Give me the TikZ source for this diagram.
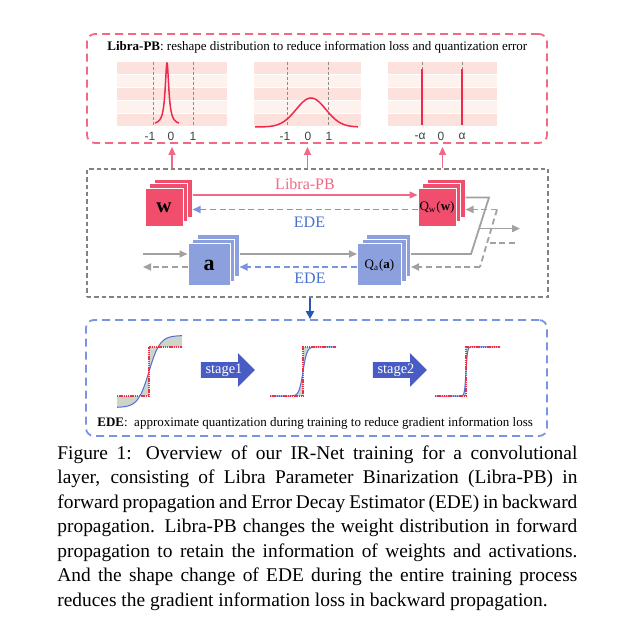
\documentclass[tikz,border=0pt]{standalone}
\usepackage{fontspec}
\setmainfont{Liberation Serif}
\setsansfont{Liberation Sans}
\usepackage{tikz}
\usetikzlibrary{arrows.meta, positioning, calc, shadows, shapes.arrows}
\definecolor{pbred}{RGB}{240,78,108}
\definecolor{pbpink}{RGB}{242,104,134}
\definecolor{curvered}{RGB}{240,40,75}
\definecolor{banddark}{RGB}{253,225,220}
\definecolor{bandlight}{RGB}{254,242,239}
\definecolor{edebox}{RGB}{141,160,222}
\definecolor{edeblue}{RGB}{120,148,226}
\definecolor{edetext}{RGB}{72,112,204}
\definecolor{flowgrey}{RGB}{165,160,160}
\definecolor{panelgrey}{RGB}{130,130,130}
\definecolor{downblue}{RGB}{38,88,178}
\definecolor{stageblue}{RGB}{72,92,196}
\definecolor{sigblue}{RGB}{88,108,208}
\definecolor{gapfill}{RGB}{204,213,199}
\definecolor{stepred}{RGB}{236,48,72}

\begin{document}
\begin{tikzpicture}[x=0.5pt, y=-0.5pt,
      pbpanel/.style={rectangle, draw=pbpink, rounded corners=4pt, line width=0.9pt,
                      dash pattern=on 4pt off 2.5pt, minimum width=230pt, minimum height=54.5pt},
      midpanel/.style={rectangle, draw=panelgrey, line width=0.75pt,
                       dash pattern=on 2.2pt off 1.5pt, minimum width=230.5pt, minimum height=64pt},
      edepanel/.style={rectangle, draw=edeblue, rounded corners=4pt, line width=0.9pt,
                       dash pattern=on 4pt off 2.5pt, minimum width=230.5pt, minimum height=58pt},
      distbox/.style={rectangle, inner sep=0pt, minimum width=55pt, minimum height=32.5pt},
      ticklbl/.style={font=\sffamily\fontsize{6}{7}\selectfont, text=black!75, inner sep=0pt},
      curve/.style={draw=curvered, line width=0.75pt},
      guide/.style={draw=black!45, line width=0.4pt, dash pattern=on 1.5pt off 1pt},
      layer/.style={rectangle, draw=white, line width=0.5pt, inner sep=0pt,
                    copy shadow={shadow xshift=4.5pt, shadow yshift=4.5pt},
                    copy shadow={shadow xshift=2.25pt, shadow yshift=2.25pt}},
      wlayer/.style={layer, fill=pbred, minimum size=19pt},
      alayer/.style={layer, fill=edebox, minimum width=21pt, minimum height=21pt},
      pbarr/.style={draw=pbpink, line width=0.7pt, -{Triangle[length=4pt,width=3.5pt]}},
      edearr/.style={draw=edeblue, line width=0.9pt, dash pattern=on 3pt off 1.8pt,
                     -{Triangle[length=4pt,width=3.5pt]}},
      flow/.style={draw=flowgrey, line width=0.9pt},
      flowarr/.style={flow, -{Triangle[length=4pt,width=3.5pt]}},
      flowdash/.style={flow, dash pattern=on 3pt off 1.8pt},
      lbl/.style={font=\fontsize{8}{9}\selectfont, inner sep=2.5pt},
      downarr/.style={draw=downblue, line width=0.9pt, -{Triangle[length=4pt,width=4pt]}},
      sigmoid/.style={draw=sigblue, line width=0.5pt},
      stepline/.style={draw=stepred, line width=0.7pt, dash pattern=on 0.7pt off 0.4pt},
      stagearr/.style={single arrow, fill=stageblue, text=white, font=\fontsize{7.2}{8}\selectfont,
                       single arrow head extend=4.5pt, minimum height=27pt, inner xsep=1pt,
                       inner ysep=0.6pt, text height=4.9pt, text depth=1.4pt},
      note/.style={font=\fontsize{6.5}{8}\selectfont, inner sep=0pt, anchor=west},
      caption/.style={text width=260pt, align=justify, inner sep=0pt, anchor=north west,
                      font=\fontsize{9.7}{12.25}\selectfont}
    ]
    \useasboundingbox (0,0) rectangle (631,635);

    \node[pbpanel] (toppanel) at (317,88.5) {};
    \node[midpanel] (midpanel) at (317.5,233) {};
    \node[edepanel] (edepanel) at (316.5,378) {};

    \node[note] (pbtitle) at (107,47)
      {\textbf{Libra-PB}: reshape distribution to reduce information loss and quantization error};

    \foreach \n/\xa/\xb in {1/117/227, 2/254/361, 3/388/497} {
      \foreach \k/\c in {0/banddark, 1/bandlight, 2/banddark, 3/bandlight, 4/banddark}
        \fill[\c] (\xa,{62+13*\k}) rectangle (\xb,{62+13*\k+12.2});
      \node[distbox] (dist\n) at ({(\xa+\xb)/2},94.5) {};
    }
    \draw[guide] (153,62) -- (153,127) (193,62) -- (193,127);
    \draw[guide] (287,62) -- (287,127) (328,62) -- (328,127);
    \draw[guide] (422,62) -- (422,127) (462,62) -- (462,127);
    \draw[curve] plot[domain=155:179, samples=100] (\x, {125-62/(1+((\x-167)/2.2)^2)});
    \draw[curve] plot[domain=255:358, samples=80] (\x, {127-29*exp(-((\x-311)/21)^2)});
    \draw[curve] (422,69) -- (422,125) (462,69) -- (462,125);

    \node[ticklbl] at (150,136) {-1};
    \node[ticklbl] at (171,136) {0};
    \node[ticklbl] at (193,136) {1};
    \node[ticklbl] at (285,136) {-1};
    \node[ticklbl] at (308,136) {0};
    \node[ticklbl] at (329,136) {1};
    \node[ticklbl] at (420,136) {-α};
    \node[ticklbl] at (441,136) {0};
    \node[ticklbl] at (462,136) {α};

    \foreach \n in {1,2,3}
      \draw[pbarr, shorten >=1.5pt] (dist\n |- midpanel.north) -- (dist\n |- toppanel.south);

    \node[wlayer, font=\bfseries\fontsize{10.5}{12}\selectfont] (wbox) at (164,207.5) {w};
    \node[wlayer, right=117pt of wbox, font=\fontsize{6.5}{8}\selectfont] (qwbox)
      {Q\textsubscript{w}(\textbf{w})};
    \node[alayer, font=\bfseries\fontsize{11}{13}\selectfont] (abox) at (209,265) {a};
    \node[alayer, minimum width=22pt, right=63.25pt of abox, font=\fontsize{6.5}{8}\selectfont] (qabox)
      {Q\textsubscript{a}(\textbf{a})};

    \draw[pbarr] ([xshift=4.5pt,yshift=6.25pt]wbox.east) -- ([yshift=6.25pt]qwbox.west)
      node[lbl, above, midway, text=pbpink] (pblbl) {Libra-PB};
    \draw[edearr] ([yshift=-1pt]qwbox.west) -- ([xshift=4.5pt,yshift=-1pt]wbox.east)
      node[lbl, below, pos=0.48, text=edetext, inner sep=3.5pt] (edew) {EDE};
    \draw[flowarr] ([xshift=4.5pt,yshift=5.5pt]abox.east) -- ([yshift=5.5pt]qabox.west);
    \draw[edearr] ([yshift=-1pt]qabox.west) -- ([xshift=4.5pt,yshift=-1pt]abox.east)
      node[lbl, below, pos=0.4, text=edetext, inner sep=2.5pt] (edea) {EDE};

    \coordinate (ain) at (143,254);
    \coordinate (aout) at (143,267);
    \draw[flowarr] (ain) -- ([yshift=5.5pt]abox.west);
    \draw[flowdash, -{Triangle[length=4pt,width=3.5pt]}] ([yshift=-1pt]abox.west) -- (aout);

    \coordinate (jw) at (489,197.5);
    \coordinate (ja) at (471,254);
    \coordinate (yout) at (520,228);
    \draw[flow] ([xshift=4.5pt,yshift=5pt]qwbox.east) -- (jw) -- (ja) -- ([xshift=4.5pt,yshift=5.5pt]qabox.east);
    \draw[flowarr] ($(jw)!0.55!(ja)$) coordinate (jm) -- (jm -| yout);

    \coordinate (dw) at (497,209.5);
    \coordinate (da) at (480,267);
    \coordinate (dm) at ($(dw)!0.58!(da)$);
    \coordinate (din) at (515,0 |- dm);
    \draw[flowdash] (dw) -- (da);
    \draw[flowdash] (din) -- (dm);
    \draw[flowdash, -{Triangle[length=4pt,width=3.5pt]}] (dw) -- ([xshift=4.5pt,yshift=-1pt]qwbox.east);
    \draw[flowdash, -{Triangle[length=4pt,width=3.5pt]}] (da) -- ([xshift=4.5pt,yshift=-1pt]qabox.east);

    \draw[downarr] (edea |- midpanel.south) -- (edea |- edepanel.north);

    \foreach \xa/\xc/\xb/\amp/\sc in {117/149/182/36/11, 270/303/336/24.6/4, 435/466/500/24.6/1.5} {
      \fill[gapfill] plot[domain=\xa:\xb, samples=121]
          (\x, {371.5-\amp*tanh(min(4,max(-4,(\x-\xc)/\sc)))})
        -- (\xb,347) -- (\xc,347) -- (\xc,396) -- (\xa,396) -- cycle;
      \draw[sigmoid] plot[domain=\xa:\xb, samples=121]
          (\x, {371.5-\amp*tanh(min(4,max(-4,(\x-\xc)/\sc)))});
      \draw[stepline] (\xa,396) -- (\xc,396) -- (\xc,347) -- (\xb,347);
    }
    \node[stagearr] (stage1) at (224,370) {stage1};
    \node[stagearr] (stage2) at (396,370) {stage2};

    \node[note] (edetitle) at (97,423)
      {\textbf{EDE}:~ approximate quantization during training to reduce gradient information loss};

    \node[caption] (cap) at (57,445)
      {Figure 1: Overview of our IR-Net training for a convolutional\linebreak
       layer, consisting of Libra Parameter Binarization (Libra-PB) in\linebreak
       forward propagation and Error Decay Estimator (EDE) in backward\linebreak
       propagation. Libra-PB changes the weight distribution in forward\linebreak
       propagation to retain the information of weights and activations.\linebreak
       And the shape change of EDE during the entire training process\linebreak
       reduces the gradient information loss in backward propagation.};
  \end{tikzpicture}
\end{document}
